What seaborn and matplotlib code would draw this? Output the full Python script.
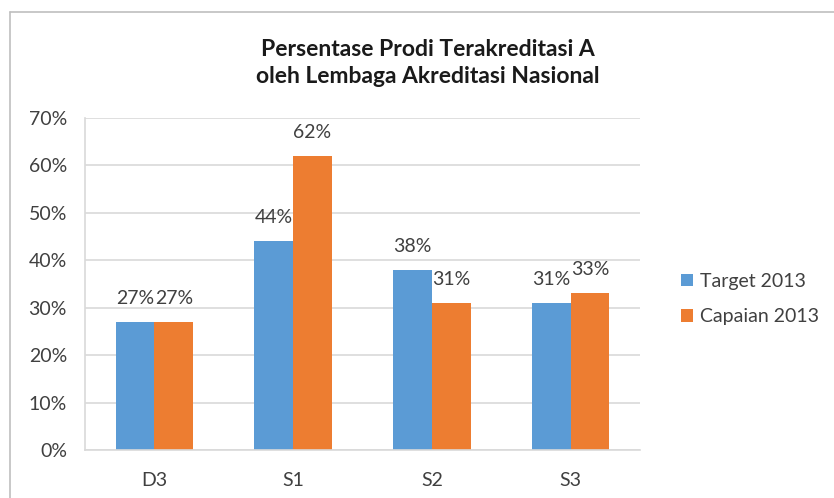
import matplotlib
matplotlib.use("Agg")
import matplotlib.pyplot as plt
import seaborn as sns
import pandas as pd
from matplotlib.lines import Line2D
from matplotlib.patches import Patch

categories = ["D3", "S1", "S2", "S3"]
series_names = ["Target 2013", "Capaian 2013"]
target_2013 = [27, 44, 38, 31]
capaian_2013 = [27, 62, 31, 33]
y_ticks = [0, 10, 20, 30, 40, 50, 60, 70]
title_text = "Persentase Prodi Terakreditasi A\noleh Lembaga Akreditasi Nasional"

colors = ["#5B9BD5", "#ED7D31"]

df = pd.DataFrame({
    "cat": categories * 2,
    "series": [series_names[0]] * 4 + [series_names[1]] * 4,
    "val": target_2013 + capaian_2013,
})

sns.set_theme(style="white")
plt.rcParams["font.family"] = ["Lato", "DejaVu Sans"]

fig = plt.figure(figsize=(8.34, 4.98), dpi=100)
ax = fig.add_axes([85 / 834, 1 - 450 / 498, (640 - 85) / 834, (450 - 118) / 498])

sns.barplot(data=df, x="cat", y="val", hue="series", palette=colors,
            width=0.56, gap=0, ax=ax, legend=False, saturation=1,
            edgecolor="none", linewidth=0)

ax.set_xlim(-0.5, 3.5)
ax.set_ylim(0, 70)
ax.set_yticks(y_ticks)
ax.set_yticklabels([f"{v}%" for v in y_ticks], fontsize=14, color="#404040")
ax.set_xlabel("")
ax.set_ylabel("")
ax.yaxis.grid(True, color="#D9D9D9", linewidth=1.2)
ax.set_axisbelow(True)

for s in ["top", "right"]:
    ax.spines[s].set_visible(False)
ax.spines["left"].set_color("#D9D9D9")
ax.spines["bottom"].set_color("#D9D9D9")
ax.spines["left"].set_linewidth(1.2)
ax.spines["bottom"].set_linewidth(1.2)

ax.tick_params(axis="y", length=4, width=1.2, color="#D9D9D9", pad=9)
ax.set_xticks(range(len(categories)))
ax.set_xticklabels(categories, fontsize=14, color="#404040")
ax.tick_params(axis="x", which="major", length=0, pad=16)
ax.set_xticks([-0.5, 0.5, 1.5, 2.5, 3.5], minor=True)
ax.tick_params(axis="x", which="minor", length=4, width=1.2, color="#D9D9D9")

for cont in ax.containers:
    for bar in cont:
        h = bar.get_height()
        ax.annotate(f"{h:.0f}%", (bar.get_x() + bar.get_width() / 2, h),
                    xytext=(0, 17), textcoords="offset points",
                    ha="center", va="center", fontsize=14, color="#404040")

fig.text(428 / 834, 1 - 63 / 498, title_text, ha="center", va="center",
         fontsize=16.5, fontweight="bold", color="#1A1A1A", linespacing=1.3)

handles = [Patch(facecolor=c, edgecolor="none") for c in colors]
fig.legend(handles, series_names, loc="center left",
           bbox_to_anchor=(681 / 834, 1 - 299 / 498), frameon=False,
           borderpad=0, borderaxespad=0,
           fontsize=14, handlelength=0.6, handleheight=0.6, handletextpad=0.4,
           labelspacing=0.95, labelcolor="#404040")

# chart border
fig.add_artist(Line2D([10 / 834, 1], [1 - 12 / 498, 1 - 12 / 498],
                      transform=fig.transFigure, color="#BFBFBF", linewidth=1.2))
fig.add_artist(Line2D([10 / 834, 10 / 834], [0, 1 - 12 / 498],
                      transform=fig.transFigure, color="#BFBFBF", linewidth=1.2))

fig.savefig("out.png", dpi=100)
